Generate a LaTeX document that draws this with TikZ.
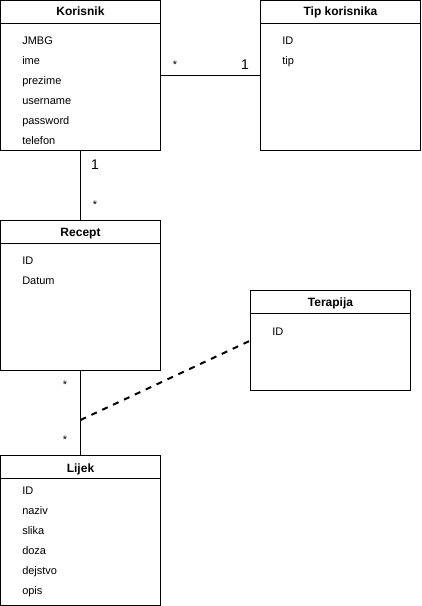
\documentclass[tikz,border=0pt]{standalone}
\usepackage{fontspec}
\setmainfont{Liberation Sans}
\begin{document}
\begin{tikzpicture}[x=0.75pt,y=-0.75pt,
  cls/.style={draw, line width=0.75pt, anchor=north west, minimum width=120pt, inner sep=0pt, outer sep=0pt},
  ttl/.style={font=\bfseries\fontsize{9}{10}\selectfont, anchor=base, inner sep=0pt},
  attr/.style={font=\fontsize{8.25}{10}\selectfont, anchor=base west, inner sep=0pt},
  star/.style={font=\fontsize{8.25}{10}\selectfont, anchor=base, inner sep=0pt},
  one/.style={font=\fontsize{10.5}{12}\selectfont, anchor=base, inner sep=0pt},
  conn/.style={line width=0.75pt},
  dep/.style={line width=1.5pt, dash pattern=on 4.5pt off 4.5pt}]
\useasboundingbox (0,0) rectangle (421,606);

% classes
\node[cls, minimum height=112.5pt] (kor) at (0.5,0.5) {};
\node[cls, minimum height=112.5pt] (tip) at (260.5,0.5) {};
\node[cls, minimum height=112.5pt] (rec) at (0.5,220.5) {};
\node[cls, minimum height=75pt] (ter) at (250.5,290.5) {};
\node[cls, minimum height=112.5pt] (lij) at (0.5,455.5) {};

% header separators
\draw[conn] ([yshift=-17.25pt]kor.north west) -- ([yshift=-17.25pt]kor.north east);
\draw[conn] ([yshift=-17.25pt]tip.north west) -- ([yshift=-17.25pt]tip.north east);
\draw[conn] ([yshift=-17.25pt]rec.north west) -- ([yshift=-17.25pt]rec.north east);
\draw[conn] ([yshift=-17.25pt]ter.north west) -- ([yshift=-17.25pt]ter.north east);
\draw[conn] ([yshift=-17.25pt]lij.north west) -- ([yshift=-17.25pt]lij.north east);

% titles
\node[ttl] (korT) at (80.5,16) {Korisnik};
\node[ttl] (tipT) at (340.5,16) {Tip korisnika};
\node[ttl] (recT) at (80.5,236) {Recept};
\node[ttl] (terT) at (330.5,306) {Terapija};
\node[ttl] (lijT) at (80.5,472) {Lijek};

% Korisnik attributes
\node[attr] (k1) at (22,45) {JMBG};
\node[attr] (k2) at (22,65) {ime};
\node[attr] (k3) at (22,85) {prezime};
\node[attr] (k4) at (22,105) {username};
\node[attr] (k5) at (22,125) {password};
\node[attr] (k6) at (22,145) {telefon};

% Tip korisnika attributes
\node[attr] (t1) at (282,45) {ID};
\node[attr] (t2) at (282,65) {tip};

% Recept attributes
\node[attr] (r1) at (22,264) {ID};
\node[attr] (r2) at (22,284) {Datum};

% Terapija attributes
\node[attr] (e1) at (272,335) {ID};

% Lijek attributes
\node[attr] (l1) at (22,494) {ID};
\node[attr] (l2) at (22,514) {naziv};
\node[attr] (l3) at (22,534) {slika};
\node[attr] (l4) at (22,554) {doza};
\node[attr] (l5) at (22,574) {dejstvo};
\node[attr] (l6) at (22,594) {opis};

% connectors
\draw[conn] (kor.east) -- (tip.west);
\draw[conn] (kor.south) -- (rec.north);
\draw[conn] (rec.south) -- (lij.north);
\coordinate (mid) at (80.5,420);
\draw[dep] (mid) -- (ter.west);

% multiplicities
\node[star] (m1) at (175,69) {*};
\node[one] (m2) at (245,70) {1};
\node[one] (m3) at (95,170) {1};
\node[star] (m4) at (95,208) {*};
\node[star] (m5) at (65,388) {*};
\node[star] (m6) at (65,443) {*};
\end{tikzpicture}
\end{document}
